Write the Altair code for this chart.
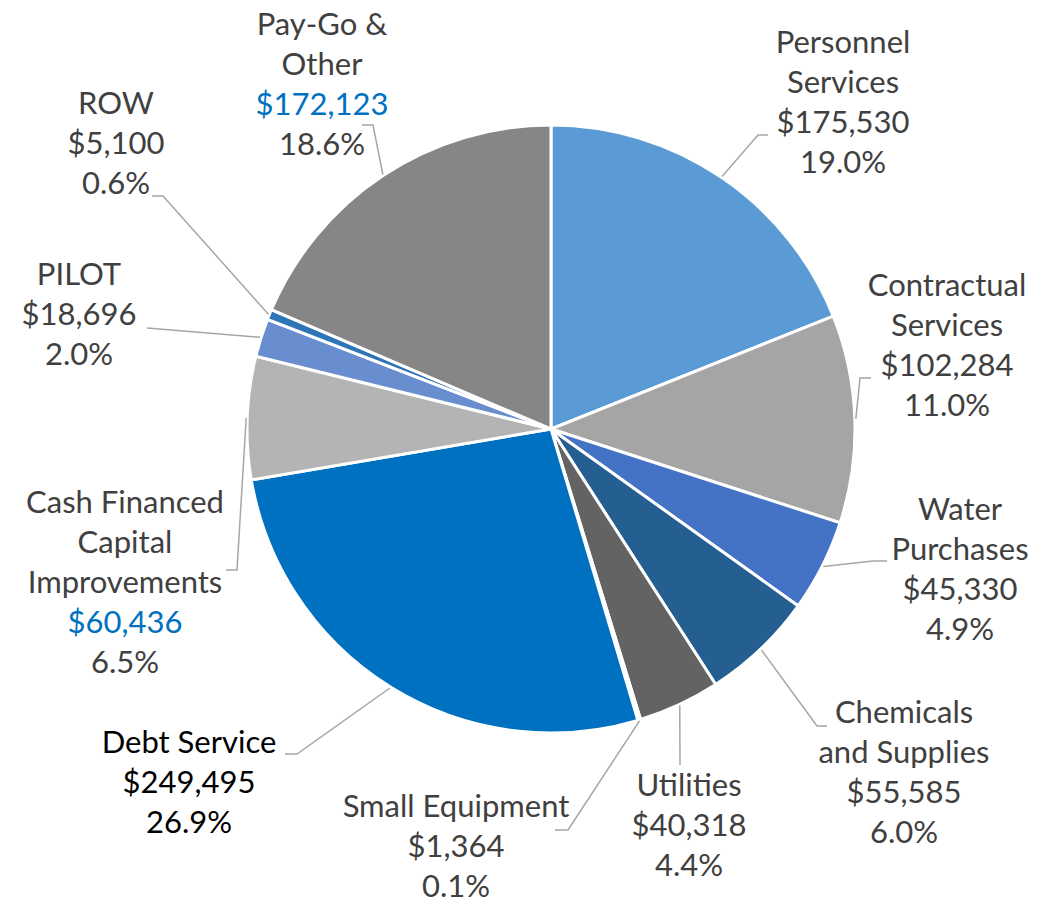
import math
import altair as alt
import pandas as pd

# ---------------- data ----------------
categories = ["Personnel Services", "Contractual Services", "Water Purchases",
              "Chemicals and Supplies", "Utilities", "Small Equipment",
              "Debt Service", "Cash Financed Capital Improvements", "PILOT",
              "ROW", "Pay-Go & Other"]
values = [175530, 102284, 45330, 55585, 40318, 1364, 249495, 60436, 18696, 5100, 172123]
name_lines = [["Personnel", "Services"], ["Contractual", "Services"], ["Water", "Purchases"],
              ["Chemicals", "and Supplies"], ["Utilities"], ["Small Equipment"],
              ["Debt Service"], ["Cash Financed", "Capital", "Improvements"], ["PILOT"],
              ["ROW"], ["Pay-Go &", "Other"]]

# ---------------- styles / layout ----------------
slice_colors = ["#5B9BD5", "#A5A5A5", "#4472C4", "#255E91", "#636363", "#FFFFFF",
                "#0070C0", "#B4B4B4", "#698ED0", "#2E75B6", "#868686"]
GRAY = "#404040"
BLUE = "#0070C0"
BLACK = "#000000"
name_color = [GRAY, GRAY, GRAY, GRAY, GRAY, GRAY, BLACK, GRAY, GRAY, GRAY, GRAY]
value_color = [GRAY, GRAY, GRAY, GRAY, GRAY, GRAY, BLACK, BLUE, GRAY, GRAY, BLUE]
pct_color = [GRAY, GRAY, GRAY, GRAY, GRAY, GRAY, BLACK, GRAY, GRAY, GRAY, GRAY]

W, H = 1040, 892
CX, CY, R = 543, 421, 304
FONT, FSIZE, LH = "Lato", 31, 40

# label block anchor (centre of first line), offset from pie centre
label_dx = [292, 396, 409, 353, 138, -95, -362, -426, -472, -435, -229]
label_dy = [-385, -142, 82, 285, 358, 379, 315, 75, -153, -324, -403]
# leader line elbow and end, offset from pie centre
elbow = [(207, -294), (309, -51), (322, 132), (266, 297), (129, 336), (17, 401),
         (-254, 325), (-314, 141), (-404, -101), (-388, -233), (-178, -304)]
lend = [(217, -294), (320, -51), (336, 132), (276, 297), (129, 336), (4, 401),
        (-266, 325), (-325, 141), (-404, -101), (-399, -233), (-189, -304)]

total = sum(values)

# ---------------- tables ----------------
pie_df = pd.DataFrame({"idx": range(len(categories)), "category": categories, "value": values})

text_rows = []
for i, cat in enumerate(categories):
    lines = [(t, name_color[i]) for t in name_lines[i]]
    lines.append((f"${values[i]:,}", value_color[i]))
    lines.append((f"{values[i] / total * 100:.1f}%", pct_color[i]))
    for j, (t, c) in enumerate(lines):
        text_rows.append({"category": cat, "text": t, "color": c,
                          "x": CX + label_dx[i], "y": CY + label_dy[i] + j * LH})
text_df = pd.DataFrame(text_rows)

line_rows = []
cum = 0
for i, cat in enumerate(categories):
    mid = (cum + values[i] / 2) / total * 2 * math.pi
    cum += values[i]
    pts = [(CX + (R + 1) * math.sin(mid), CY - (R + 1) * math.cos(mid)),
           (CX + elbow[i][0], CY + elbow[i][1]),
           (CX + lend[i][0], CY + lend[i][1])]
    for k, (px, py) in enumerate(pts):
        line_rows.append({"category": cat, "k": k, "x": px, "y": py})
line_df = pd.DataFrame(line_rows)

# ---------------- chart ----------------
pie = alt.Chart(pie_df).mark_arc(outerRadius=R, stroke="white", strokeWidth=3).encode(
    theta=alt.Theta("value:Q", stack=True),
    color=alt.Color("category:N", scale=alt.Scale(domain=categories, range=slice_colors), legend=None),
    order=alt.Order("idx:Q"),
    x=alt.value(CX),
    y=alt.value(CY),
)

leaders = alt.Chart(line_df).mark_line(color="#A6A6A6", strokeWidth=1.5).encode(
    x=alt.X("x:Q", scale=None),
    y=alt.Y("y:Q", scale=None),
    detail="category:N",
    order=alt.Order("k:Q"),
)

labels = alt.Chart(text_df).mark_text(font=FONT, fontSize=FSIZE, align="center", baseline="middle").encode(
    x=alt.X("x:Q", scale=None),
    y=alt.Y("y:Q", scale=None),
    text="text:N",
    color=alt.Color("color:N", scale=None),
)

chart = alt.layer(pie, leaders, labels).properties(
    width=W, height=H, padding=0, autosize=alt.AutoSizeParams(type="none")
).configure_view(stroke=None)

chart.save("out.html", embed_options={"renderer": "svg", "actions": False})
